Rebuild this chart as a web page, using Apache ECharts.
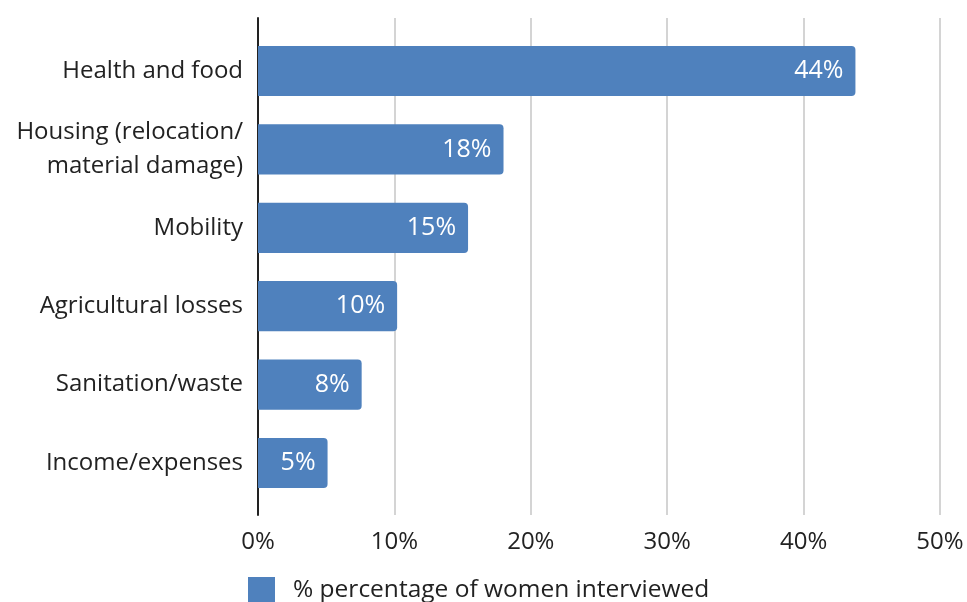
<!DOCTYPE html>
<html>
<head>
<meta charset="utf-8">
<script src="https://cdn.jsdelivr.net/npm/echarts@6/dist/echarts.min.js"></script>
<style>
  html, body { margin: 0; padding: 0; background: #fff; }
  #chart { width: 967px; height: 602px; }
</style>
</head>
<body>
<div id="chart"></div>
<script>
// Concerns raised, share of women interviewed (%)
const categories = [
  'Health and food',
  'Housing (relocation/\nmaterial damage)',
  'Mobility',
  'Agricultural losses',
  'Sanitation/waste',
  'Income/expenses'
];
const shares = [43.8, 18.0, 15.4, 10.2, 7.6, 5.1];
const seriesName = '% percentage of women interviewed';
const xTicks = [0, 10, 20, 30, 40, 50];

const FONT = '"Open Sans", sans-serif';
const chart = echarts.init(document.getElementById('chart'));

chart.setOption({
  animation: false,
  backgroundColor: '#ffffff',
  textStyle: { fontFamily: FONT },
  grid: [
    // frame: gridlines, baseline and tick labels
    { left: 258, right: 27, top: 18, bottom: 87 },
    // bars and category labels
    { left: 258, right: 27, top: 31.8, bottom: 99.8 }
  ],
  xAxis: [
    {
      gridIndex: 0, type: 'value',
      min: xTicks[0], max: xTicks[xTicks.length - 1], interval: 10,
      axisLine: { show: false }, axisTick: { show: false },
      splitLine: { lineStyle: { color: '#d4d4d4', width: 2 } },
      axisLabel: { formatter: '{value}%', fontSize: 24, color: '#222', margin: 15, fontFamily: FONT }
    },
    {
      gridIndex: 1, type: 'value',
      min: xTicks[0], max: xTicks[xTicks.length - 1],
      show: false
    }
  ],
  yAxis: [
    {
      gridIndex: 0, type: 'category', data: categories,
      axisLine: { show: true, lineStyle: { color: '#222', width: 2 } },
      axisTick: { show: false }, axisLabel: { show: false }, splitLine: { show: false }
    },
    {
      gridIndex: 1, type: 'category', data: categories, inverse: true,
      axisLine: { show: false }, axisTick: { show: false }, splitLine: { show: false },
      axisLabel: { fontSize: 24, color: '#222', margin: 15, lineHeight: 34, align: 'right', fontFamily: FONT }
    }
  ],
  legend: {
    top: 577, left: 248, padding: 0,
    itemWidth: 27, itemHeight: 27, itemGap: 10,
    data: [seriesName],
    textStyle: { fontSize: 24.5, color: '#222', fontFamily: FONT, padding: [0, 0, 0, 13] },
    icon: 'rect'
  },
  series: [
    {
      name: seriesName,
      type: 'bar',
      xAxisIndex: 1, yAxisIndex: 1,
      data: shares,
      barWidth: '64%',
      itemStyle: { color: '#4f81bd', borderRadius: [0, 4, 4, 0] },
      label: {
        show: true, position: 'insideRight', distance: 12,
        color: '#fff', fontSize: 25, fontFamily: FONT,
        formatter: p => Math.round(p.value) + '%'
      }
    }
  ]
});
</script>
</body>
</html>
